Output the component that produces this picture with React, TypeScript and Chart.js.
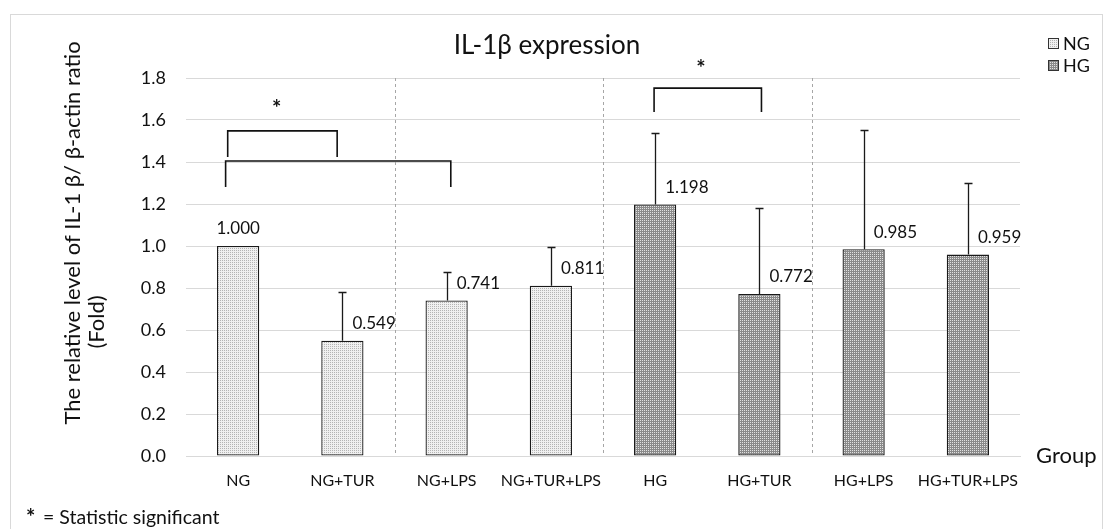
import React, { useEffect, useRef } from 'react';
import { Chart, registerables } from 'chart.js';

Chart.register(...registerables);

const categories = ['NG', 'NG+TUR', 'NG+LPS', 'NG+TUR+LPS', 'HG', 'HG+TUR', 'HG+LPS', 'HG+TUR+LPS'];
const ngValues = [1.0, 0.549, 0.741, 0.811, null, null, null, null];
const hgValues = [null, null, null, null, 1.198, 0.772, 0.985, 0.959];
const errorValues = [0, 0.232, 0.134, 0.183, 0.342, 0.408, 0.567, 0.342];
const valueLabels = ['1.000', '0.549', '0.741', '0.811', '1.198', '0.772', '0.985', '0.959'];
const seriesNames = ['NG', 'HG'];
const groupSeparators = [1.5, 3.5, 5.5];
// significance brackets in data units (category index, value)
const bracketFrom = [-0.1, -0.12, 3.99];
const bracketTo = [0.95, 2.04, 5.02];
const bracketTop = [1.548, 1.405, 1.752];
const bracketBottom = [1.424, 1.281, 1.638];
const starX = [0.37, 4.44];
const starY = [1.676, 1.867];

const chartTitle = 'IL-1β expression';
const yTitleLines = ['The relative level of IL-1 β/ β-actin ratio', '(Fold)'];
const xTitle = 'Group';
const footnoteStar = '*';
const footnote = '= Statistic significant';

const FONT = 'Lato, "Open Sans", sans-serif';
const TEXT = '#111111';

function makePattern(bg: string, dot: string) {
  const c = document.createElement('canvas');
  c.width = 2;
  c.height = 2;
  const g = c.getContext('2d')!;
  g.fillStyle = bg;
  g.fillRect(0, 0, 2, 2);
  g.fillStyle = dot;
  g.fillRect(0, 0, 1, 1);
  return g.createPattern(c, 'repeat')!;
}

export default function App() {
  const ref = useRef<HTMLCanvasElement>(null);

  useEffect(() => {
    const canvas = ref.current!;
    const ngPat = makePattern('#f0f0f0', '#b4b4b4');
    const hgPat = makePattern('#8a8a8a', '#e2e2e2');
    const pats = [ngPat, hgPat];

    const overlay = {
      id: 'overlay',
      beforeDatasetsDraw(chart: any) {
        const { ctx, chartArea, scales } = chart;
        const xs = scales.x;
        ctx.save();
        ctx.strokeStyle = '#a6a6a6';
        ctx.lineWidth = 1;
        ctx.setLineDash([3, 3]);
        groupSeparators.forEach((s) => {
          const x = Math.round(xs.getPixelForValue(s)) + 0.5;
          ctx.beginPath();
          ctx.moveTo(x, chartArea.top);
          ctx.lineTo(x, chartArea.bottom);
          ctx.stroke();
        });
        ctx.restore();
      },
      afterDraw(chart: any) {
        const { ctx, scales } = chart;
        const xs = scales.x;
        const ys = scales.y;
        ctx.save();
        // outer frame
        ctx.strokeStyle = '#d9d9d9';
        ctx.lineWidth = 1;
        ctx.strokeRect(10.5, 14.5, 1092, 530);

        // error bars
        ctx.strokeStyle = '#1a1a1a';
        ctx.lineWidth = 1.3;
        categories.forEach((_, i) => {
          const v = (ngValues[i] ?? hgValues[i]) as number;
          const e = errorValues[i];
          if (!e) return;
          const x = Math.round(xs.getPixelForValue(i)) + 0.5;
          const y0 = ys.getPixelForValue(v);
          const y1 = Math.round(ys.getPixelForValue(v + e)) + 0.5;
          ctx.beginPath();
          ctx.moveTo(x, y0);
          ctx.lineTo(x, y1);
          ctx.moveTo(x - 4, y1);
          ctx.lineTo(x + 4, y1);
          ctx.stroke();
        });

        // value labels
        ctx.fillStyle = TEXT;
        ctx.font = `17px ${FONT}`;
        ctx.textBaseline = 'middle';
        categories.forEach((_, i) => {
          const v = (ngValues[i] ?? hgValues[i]) as number;
          const x = xs.getPixelForValue(i);
          const y = ys.getPixelForValue(v) - 17;
          if (!errorValues[i]) {
            ctx.textAlign = 'center';
            ctx.fillText(valueLabels[i], x, y);
          } else {
            ctx.textAlign = 'left';
            ctx.fillText(valueLabels[i], x + 10, y);
          }
        });

        // brackets
        ctx.strokeStyle = '#111';
        ctx.lineWidth = 1.6;
        bracketFrom.forEach((f, i) => {
          const xa = xs.getPixelForValue(f);
          const xb = xs.getPixelForValue(bracketTo[i]);
          const yt = ys.getPixelForValue(bracketTop[i]);
          const yb = ys.getPixelForValue(bracketBottom[i]);
          ctx.beginPath();
          ctx.moveTo(xa, yb);
          ctx.lineTo(xa, yt);
          ctx.lineTo(xb, yt);
          ctx.lineTo(xb, yb);
          ctx.stroke();
        });
        ctx.font = `bold 22px ${FONT}`;
        ctx.textAlign = 'center';
        starX.forEach((sx, i) => {
          ctx.fillText('*', xs.getPixelForValue(sx), ys.getPixelForValue(starY[i]) + 5);
        });

        // title
        ctx.font = `26px ${FONT}`;
        ctx.fillText(chartTitle, 547, 46);

        // y title
        ctx.font = `22px ${FONT}`;
        ctx.save();
        ctx.translate(73, 233);
        ctx.rotate(-Math.PI / 2);
        ctx.fillText(yTitleLines[0], 0, 0);
        ctx.restore();
        ctx.save();
        ctx.translate(97, 322);
        ctx.rotate(-Math.PI / 2);
        ctx.fillText(yTitleLines[1], 0, 0);
        ctx.restore();

        // x title
        ctx.textAlign = 'left';
        ctx.fillText(xTitle, 1036, 456);

        // footnote
        ctx.font = `bold 22px ${FONT}`;
        ctx.fillText(footnoteStar, 26, 518);
        ctx.font = `19.5px ${FONT}`;
        ctx.fillText(footnote, 43, 518);

        // legend
        ctx.font = `18px ${FONT}`;
        seriesNames.forEach((n, i) => {
          const cy = 43 + i * 22;
          ctx.fillStyle = pats[i];
          ctx.fillRect(1048, cy - 5, 11, 11);
          ctx.strokeStyle = '#333';
          ctx.lineWidth = 1;
          ctx.strokeRect(1048.5, cy - 4.5, 10, 10);
          ctx.fillStyle = TEXT;
          ctx.fillText(n, 1063, cy + 1);
        });
        ctx.restore();
      },
    };

    const chart = new Chart(canvas, {
      type: 'bar',
      data: {
        labels: categories,
        datasets: [
          {
            label: seriesNames[0],
            data: ngValues,
            backgroundColor: ngPat,
            borderColor: '#1a1a1a',
            borderWidth: 1.3,
            borderSkipped: false,
            barPercentage: 0.405,
            categoryPercentage: 1,
          },
          {
            label: seriesNames[1],
            data: hgValues,
            backgroundColor: hgPat,
            borderColor: '#1a1a1a',
            borderWidth: 1.3,
            borderSkipped: false,
            barPercentage: 0.405,
            categoryPercentage: 1,
          },
        ],
      },
      options: {
        animation: false,
        responsive: false,
        devicePixelRatio: 1,
        skipNull: true,
        layout: { padding: { left: 0, right: 84, top: 78, bottom: 33 } },
        plugins: {
          legend: { display: false },
          tooltip: { enabled: false },
          title: { display: false },
        },
        scales: {
          x: {
            grid: { display: false, drawTicks: false },
            border: { display: true, color: '#d9d9d9', width: 1 },
            ticks: { font: { family: FONT, size: 16 }, color: TEXT, padding: 15, maxRotation: 0, autoSkip: false },
            afterFit: (s: any) => {
              s.height = 40;
            },
          },
          y: {
            min: 0,
            max: 1.8,
            grid: { color: '#d9d9d9', lineWidth: 1, drawTicks: false },
            border: { display: false },
            ticks: {
              stepSize: 0.2,
              font: { family: FONT, size: 18 },
              color: TEXT,
              padding: 20,
              callback: (v: any) => Number(v).toFixed(1),
            },
            afterFit: (s: any) => {
              s.width = 186;
            },
          },
        },
      },
      plugins: [overlay],
    } as any);
    return () => chart.destroy();
  }, []);

  return (
    <div style={{ position: 'absolute', left: 0, top: 0, width: 1104, height: 529, background: '#fff' }}>
      <canvas ref={ref} width={1104} height={529} style={{ display: 'block' }} />
    </div>
  );
}
